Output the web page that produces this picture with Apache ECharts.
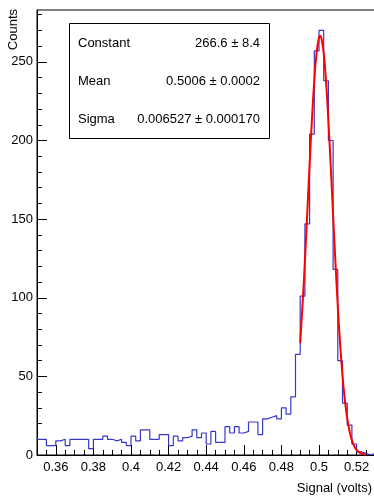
<!DOCTYPE html>
<html>
<head>
<meta charset="utf-8">
<script src="https://cdn.jsdelivr.net/npm/echarts@6/dist/echarts.min.js"></script>
<style>
html,body{margin:0;padding:0;background:#fff;}
#c{width:374px;height:497px;}
</style>
</head>
<body>
<div id="c"></div>
<script>
// ---- data ----
var BIN_START = 0.35;
var BIN_WIDTH = 0.0025;
var COUNTS = [10,10,6,6,9,10,6,10,10,10,10,4,10,10,12,10,9,10,8,6,
              12,9,16,16,10,10,13,13,6,12,9,11,12,16,11,14,7,15,8,8,
              18,14,18,14,15,21,21,13,23,24,25,23,30,26,37,64,101,147,204,257,
              270,238,200,118,60,33,19,7,2,1,0,1];
var FIT_X = [0.49,0.49125,0.4925,0.49375,0.495,0.49625,0.4975,0.49875,0.5,0.5006,0.50125,0.5025,0.50375,0.505,0.50625,0.5075,0.50875,0.51,0.51125,0.5125,0.51375,0.515,0.51625,0.5175,0.51875,0.52,0.52125,0.5225,0.52375,0.525];
var FIT_Y = [71.3,95.6,123.4,153.7,184.5,213.5,238.2,256.1,265.5,266.6,265.3,255.5,237.3,212.4,183.3,152.5,122.3,94.5,70.4,50.6,35.0,23.4,15.1,9.3,5.6,3.2,1.8,0.96,0.5,0.25];
var X_MAJOR = [0.36,0.38,0.40,0.42,0.44,0.46,0.48,0.50,0.52,0.54];
var X_MINOR = [0.355,0.36,0.365,0.37,0.375,0.38,0.385,0.39,0.395,0.40,0.405,0.41,0.415,0.42,0.425,0.43,0.435,0.44,0.445,0.45,0.455,0.46,0.465,0.47,0.475,0.48,0.485,0.49,0.495,0.50,0.505,0.51,0.515,0.52,0.525,0.53,0.535,0.54,0.545];
var Y_MAJOR = [0,50,100,150,200,250];
var Y_MINOR = [10,20,30,40,60,70,80,90,110,120,130,140,160,170,180,190,210,220,230,240,260,270,280];
var STAT_NAMES = ['Constant','Mean','Sigma'];
var STAT_VALUES = ['266.6 \u00b1 8.4','0.5006 \u00b1 0.0002','0.006527 \u00b1 0.000170'];
var X_TITLE = 'Signal (volts)';
var Y_TITLE = 'Counts';

// ---- build ----
var histData = [];
for (var i = 0; i < COUNTS.length; i++) {
  var a = +(BIN_START + i * BIN_WIDTH).toFixed(6);
  var b = +(BIN_START + (i + 1) * BIN_WIDTH).toFixed(6);
  histData.push([a, COUNTS[i]]);
  histData.push([b, COUNTS[i]]);
}
var fitData = FIT_X.map(function (x, k) { return [x, FIT_Y[k]]; });

var FONT = 'Liberation Sans, Arial, Helvetica, sans-serif';
var chart = echarts.init(document.getElementById('c'), null, {renderer: 'canvas'});

var statsGraphics = [{
  type: 'rect', left: 69, top: 23, z: 100,
  shape: {width: 200, height: 115},
  style: {fill: '#fff', stroke: '#000', lineWidth: 1}
}];
var rowY = [43, 81, 119];
STAT_NAMES.forEach(function (n, k) {
  statsGraphics.push({type: 'text', x: 78, y: rowY[k], z: 101,
    style: {text: n, font: '13px ' + FONT, fill: '#000', textAlign: 'left', textVerticalAlign: 'middle'}});
  statsGraphics.push({type: 'text', x: 260, y: rowY[k], z: 101,
    style: {text: STAT_VALUES[k], font: '13px ' + FONT, fill: '#000', textAlign: 'right', textVerticalAlign: 'middle'}});
});
statsGraphics.push({type: 'text', x: 372, y: 488, z: 101,
  style: {text: X_TITLE, font: '13px ' + FONT, fill: '#000', textAlign: 'right', textVerticalAlign: 'middle'}});
statsGraphics.push({type: 'text', x: 13, y: 9, rotation: Math.PI / 2, z: 101,
  style: {text: Y_TITLE, font: '13px ' + FONT, fill: '#000', textAlign: 'right', textVerticalAlign: 'middle'}});

function fmt(v) { return String(+v.toFixed(2)); }

chart.setOption({
  animation: false,
  backgroundColor: '#fff',
  grid: {left: 37, top: 10, width: 376, height: 445, show: true, borderColor: '#000', borderWidth: 1,
         backgroundColor: 'transparent', containLabel: false, outerBoundsMode: 'none'},
  xAxis: [{
    type: 'value', min: 0.35, max: 0.55, position: 'bottom',
    axisLine: {show: true, onZero: false, lineStyle: {color: '#000', width: 1}},
    axisTick: {show: true, inside: true, length: 10, customValues: X_MAJOR, lineStyle: {color: '#000'}},
    axisLabel: {show: true, customValues: X_MAJOR, formatter: fmt, margin: 6, color: '#000', fontSize: 13, fontFamily: FONT},
    splitLine: {show: false}
  }, {
    type: 'value', min: 0.35, max: 0.55, position: 'bottom', gridIndex: 0,
    axisLine: {show: false},
    axisTick: {show: true, inside: true, length: 5, customValues: X_MINOR, lineStyle: {color: '#000'}},
    axisLabel: {show: false},
    splitLine: {show: false}
  }],
  yAxis: [{
    type: 'value', min: 0, max: 283, position: 'left',
    axisLine: {show: true, onZero: false, lineStyle: {color: '#000', width: 1}},
    axisTick: {show: true, inside: true, length: 10, customValues: Y_MAJOR, lineStyle: {color: '#000'}},
    axisLabel: {show: true, customValues: Y_MAJOR, margin: 4, color: '#000', fontSize: 13, fontFamily: FONT},
    splitLine: {show: false}
  }, {
    type: 'value', min: 0, max: 283, position: 'left', gridIndex: 0,
    axisLine: {show: false},
    axisTick: {show: true, inside: true, length: 5, customValues: Y_MINOR, lineStyle: {color: '#000'}},
    axisLabel: {show: false},
    splitLine: {show: false}
  }],
  series: [{
    type: 'line', data: histData, xAxisIndex: 0, yAxisIndex: 0,
    showSymbol: false, symbol: 'none',
    lineStyle: {color: '#3838c8', width: 1.2}, z: 3
  }, {
    type: 'line', data: fitData, xAxisIndex: 0, yAxisIndex: 0,
    smooth: true, showSymbol: false, symbol: 'none',
    lineStyle: {color: '#ff0000', width: 2}, z: 4
  }],
  graphic: statsGraphics
});
</script>
</body>
</html>
